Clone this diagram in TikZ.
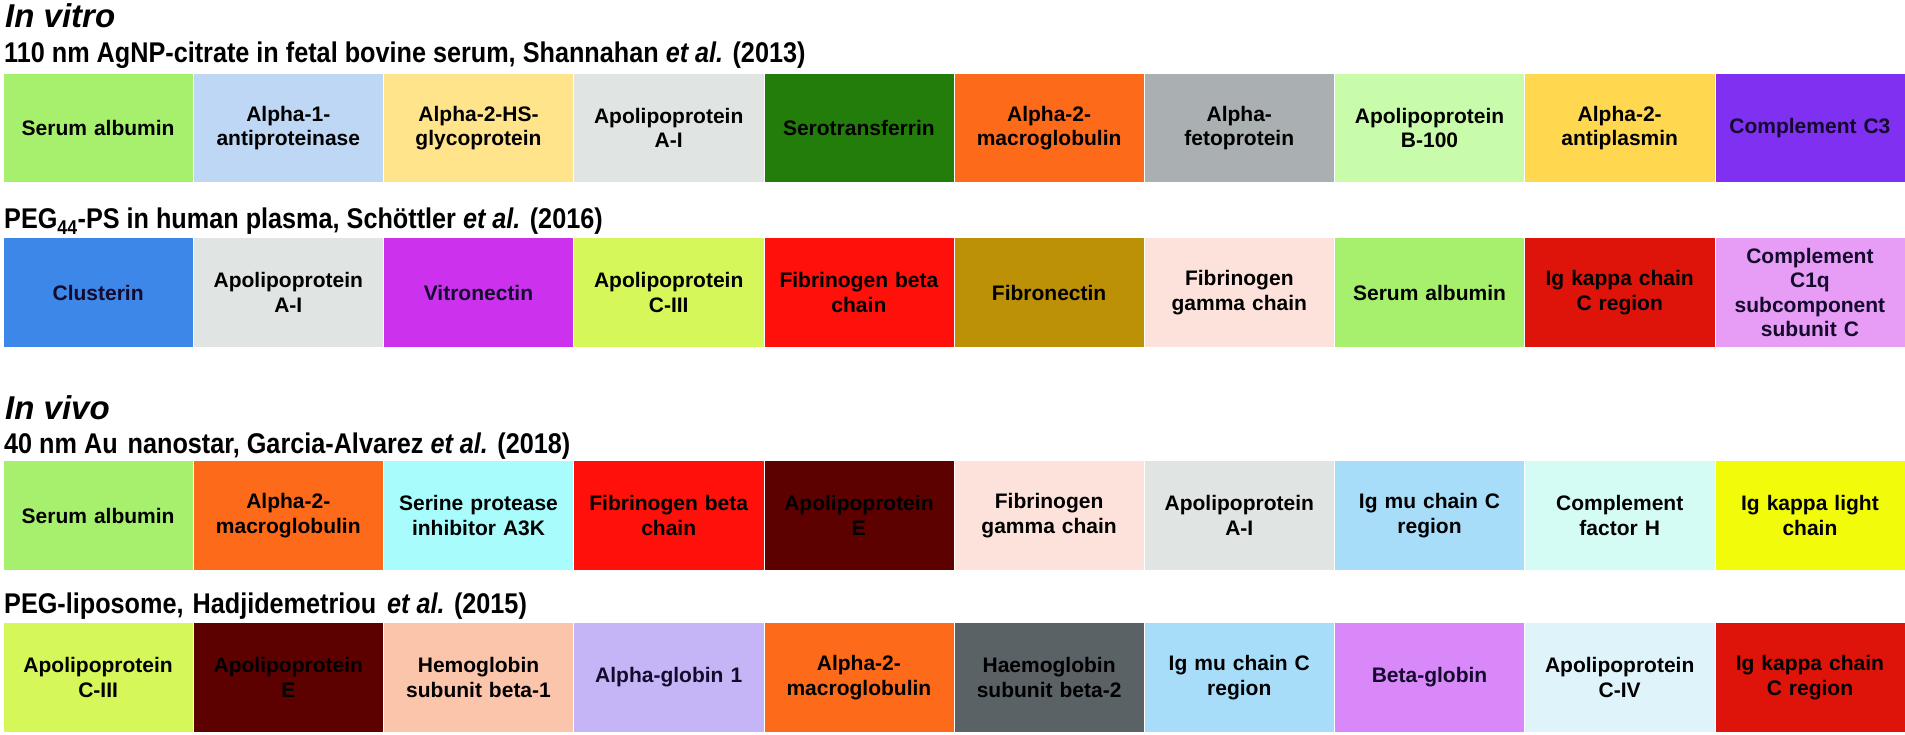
\documentclass[tikz,border=0pt]{standalone}
\usepackage{fontspec}
\setmainfont{Liberation Sans}
\newfontfamily\subfont[FakeStretch=0.885]{Liberation Sans}
\usetikzlibrary{positioning}
\definecolor{cSA}{RGB}{166,240,110}
\definecolor{cA1A}{RGB}{189,215,245}
\definecolor{cHS}{RGB}{255,228,140}
\definecolor{cAAI}{RGB}{224,228,226}
\definecolor{cSTF}{RGB}{35,125,10}
\definecolor{cA2M}{RGB}{253,106,26}
\definecolor{cAFP}{RGB}{170,175,178}
\definecolor{cB100}{RGB}{200,252,170}
\definecolor{cA2AP}{RGB}{255,216,80}
\definecolor{cC3}{RGB}{128,48,240}
\definecolor{cCLU}{RGB}{60,135,232}
\definecolor{cVTN}{RGB}{204,50,238}
\definecolor{cC3III}{RGB}{214,247,90}
\definecolor{cFGB}{RGB}{255,16,10}
\definecolor{cFN}{RGB}{189,145,5}
\definecolor{cFGG}{RGB}{252,226,218}
\definecolor{cIGK}{RGB}{222,20,10}
\definecolor{cC1Q}{RGB}{231,157,245}
\definecolor{cSP}{RGB}{168,252,252}
\definecolor{cAPOE}{RGB}{92,0,0}
\definecolor{cIGM}{RGB}{168,221,250}
\definecolor{cCFH}{RGB}{212,252,244}
\definecolor{cIGKL}{RGB}{242,252,10}
\definecolor{cHB1}{RGB}{250,197,170}
\definecolor{cAG1}{RGB}{197,181,247}
\definecolor{cHB2}{RGB}{90,98,102}
\definecolor{cBG}{RGB}{216,136,248}
\definecolor{cC4}{RGB}{223,244,250}
\definecolor{navytext}{RGB}{20,10,45}
\newcommand\pbx[5]{\node[pbox, fill=#4] (#1) at (#2,#3) {#5};}
\begin{document}
\begin{tikzpicture}[x=1pt,y=-1pt,
  pbox/.style={rectangle, minimum width=190.2pt, minimum height=109.5pt, inner sep=0pt,
    draw=white, line width=0.6pt, text width=182pt, align=center,
    font=\fontsize{21}{24.5}\selectfont\bfseries},
  ttl/.style={anchor=base west, inner sep=0pt, font=\fontsize{33}{36}\selectfont\bfseries\itshape},
  sub/.style={anchor=base west, inner sep=0pt, font=\subfont\fontsize{28.5}{30}\selectfont\bfseries}]
\fill[white] (0,0) rectangle (1905,735);
\useasboundingbox (0,0) rectangle (1905,735);
% titles
\node[ttl] (tvitro) at (5,28) {In vitro};
\node[sub] (s1) at (4,63) {110 nm AgNP-citrate in fetal bovine serum, Shannahan \textit{et al.} (2013)};
\node[sub] (s2) at (4,229) {PEG\textsubscript{44}-PS in human plasma, Schöttler \textit{et al.} (2016)};
\node[ttl] (tvivo) at (5,419) {In vivo};
\node[sub] (s3) at (4,453) {40 nm Au\hspace{3pt} nanostar, Garcia-Alvarez \textit{et al.} (2018)};
\node[sub] (s4) at (4,613) {PEG-liposome,\hspace{2pt} Hadjidemetriou\hspace{4pt} \textit{et al.} (2015)};
% row 1
\pbx{a1}{98.1}{128}{cSA}{Serum albumin}
\pbx{a2}{288.3}{128}{cA1A}{Alpha-1-\\antiproteinase}
\pbx{a3}{478.5}{128}{cHS}{Alpha-2-HS-\\glycoprotein}
\pbx{a4}{668.7}{128}{cAAI}{Apolipoprotein\\A-I}
\pbx{a5}{858.9}{128}{cSTF}{Serotransferrin}
\pbx{a6}{1049.1}{128}{cA2M}{Alpha-2-\\macroglobulin}
\pbx{a7}{1239.3}{128}{cAFP}{Alpha-\\fetoprotein}
\pbx{a8}{1429.5}{128}{cB100}{Apolipoprotein\\B-100}
\pbx{a9}{1619.7}{128}{cA2AP}{Alpha-2-\\antiplasmin}
\pbx{a10}{1809.9}{128}{cC3}{\color{navytext}Complement C3}
% row 2
\pbx{b1}{98.1}{292.5}{cCLU}{\color{navytext}Clusterin}
\pbx{b2}{288.3}{292.5}{cAAI}{Apolipoprotein\\A-I}
\pbx{b3}{478.5}{292.5}{cVTN}{\color{navytext}Vitronectin}
\pbx{b4}{668.7}{292.5}{cC3III}{Apolipoprotein\\C-III}
\pbx{b5}{858.9}{292.5}{cFGB}{Fibrinogen beta\\chain}
\pbx{b6}{1049.1}{292.5}{cFN}{Fibronectin}
\pbx{b7}{1239.3}{292.5}{cFGG}{Fibrinogen\\gamma chain}
\pbx{b8}{1429.5}{292.5}{cSA}{Serum albumin}
\pbx{b9}{1619.7}{292.5}{cIGK}{Ig kappa chain\\C region}
\pbx{b10}{1809.9}{292.5}{cC1Q}{\color{navytext}Complement\\C1q\\subcomponent\\subunit C}
% row 3
\pbx{c1}{98.1}{515.5}{cSA}{Serum albumin}
\pbx{c2}{288.3}{515.5}{cA2M}{Alpha-2-\\macroglobulin}
\pbx{c3}{478.5}{515.5}{cSP}{Serine protease\\inhibitor A3K}
\pbx{c4}{668.7}{515.5}{cFGB}{Fibrinogen beta\\chain}
\pbx{c5}{858.9}{515.5}{cAPOE}{Apolipoprotein\\E}
\pbx{c6}{1049.1}{515.5}{cFGG}{Fibrinogen\\gamma chain}
\pbx{c7}{1239.3}{515.5}{cAAI}{Apolipoprotein\\A-I}
\pbx{c8}{1429.5}{515.5}{cIGM}{Ig mu chain C\\region}
\pbx{c9}{1619.7}{515.5}{cCFH}{Complement\\factor H}
\pbx{c10}{1809.9}{515.5}{cIGKL}{Ig kappa light\\chain}
% row 4
\pbx{d1}{98.1}{677.5}{cC3III}{Apolipoprotein\\C-III}
\pbx{d2}{288.3}{677.5}{cAPOE}{Apolipoprotein\\E}
\pbx{d3}{478.5}{677.5}{cHB1}{Hemoglobin\\subunit beta-1}
\pbx{d4}{668.7}{677.5}{cAG1}{\color{navytext}Alpha-globin 1}
\pbx{d5}{858.9}{677.5}{cA2M}{Alpha-2-\\macroglobulin}
\pbx{d6}{1049.1}{677.5}{cHB2}{Haemoglobin\\subunit beta-2}
\pbx{d7}{1239.3}{677.5}{cIGM}{Ig mu chain C\\region}
\pbx{d8}{1429.5}{677.5}{cBG}{\color{navytext}Beta-globin}
\pbx{d9}{1619.7}{677.5}{cC4}{Apolipoprotein\\C-IV}
\pbx{d10}{1809.9}{677.5}{cIGK}{Ig kappa chain\\C region}
\end{tikzpicture}
\end{document}
